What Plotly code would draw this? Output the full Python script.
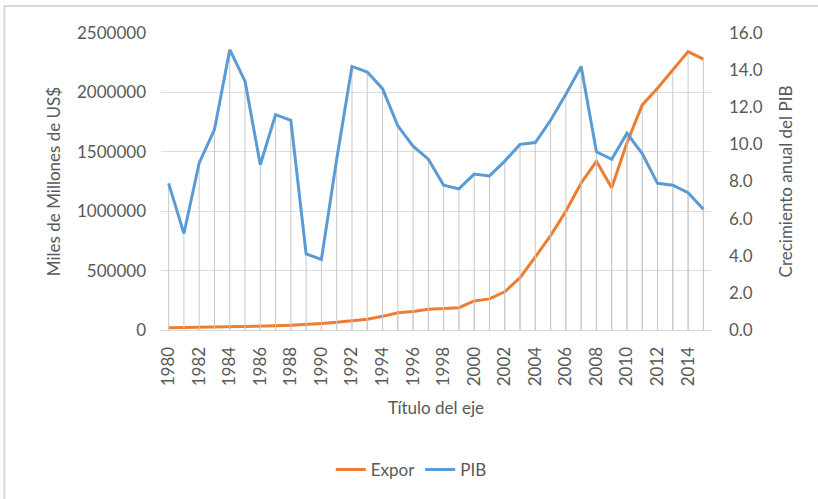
import plotly.graph_objects as go

# Years on the category axis
years = list(range(1980, 2016))

# Exports, thousands of millions of US$ (left axis)
expor = [18000, 20000, 21000, 22000, 24000, 26000, 30000, 35000, 40000, 45000,
         55000, 65000, 80000, 90000, 115000, 145000, 155000, 175000, 180000, 188000,
         245000, 262000, 322000, 440000, 615000, 795000, 1000000, 1238000, 1420000, 1198000,
         1575000, 1895000, 2035000, 2190000, 2343000, 2280000]

# Annual GDP growth, % (right axis)
pib = [7.9, 5.2, 9.0, 10.8, 15.1, 13.4, 8.9, 11.6, 11.3, 4.1,
       3.8, 9.2, 14.2, 13.9, 13.0, 11.0, 9.9, 9.2, 7.8, 7.6,
       8.4, 8.3, 9.1, 10.0, 10.1, 11.3, 12.7, 14.2, 9.6, 9.2,
       10.6, 9.5, 7.9, 7.8, 7.4, 6.5]

year_ticks = list(range(1980, 2015, 2))
left_ticks = [0, 500000, 1000000, 1500000, 2000000, 2500000]
right_ticks = [0, 2, 4, 6, 8, 10, 12, 14, 16]

ORANGE = "#ED7D31"
BLUE = "#5B9BD5"
TEXT = "#595959"
DROP = "#c8c8c8"
FONT = "Lato"


def drop_lines(values):
    xs, ys = [], []
    for x, v in zip(years, values):
        xs += [x, x, None]
        ys += [0, v, None]
    return xs, ys


fig = go.Figure()

# Vertical drop lines from the axis up to each series
dx, dy = drop_lines(expor)
fig.add_trace(go.Scatter(x=dx, y=dy, mode="lines", line=dict(color=DROP, width=1),
                         showlegend=False, hoverinfo="skip", yaxis="y"))
dx, dy = drop_lines(pib)
fig.add_trace(go.Scatter(x=dx, y=dy, mode="lines", line=dict(color=DROP, width=1),
                         showlegend=False, hoverinfo="skip", yaxis="y2"))

fig.add_trace(go.Scatter(x=years, y=expor, name="Expor", mode="lines",
                         line=dict(color=ORANGE, width=3), yaxis="y"))
fig.add_trace(go.Scatter(x=years, y=pib, name="PIB", mode="lines",
                         line=dict(color=BLUE, width=3), yaxis="y2"))

fig.update_layout(
    width=818, height=499,
    margin=dict(l=161, r=107, t=33, b=168),
    paper_bgcolor="white", plot_bgcolor="white",
    font=dict(family=FONT, size=17, color=TEXT),
    xaxis=dict(
        range=[1979.5, 2015.5], tickvals=year_ticks, ticktext=[str(y) for y in year_ticks],
        tickangle=-90, showgrid=False, zeroline=False,
        showline=True, linecolor="#d9d9d9", linewidth=1,
        ticks="", ticklabelstandoff=9,
        title=dict(text="Título del eje", standoff=16, font=dict(size=17, color=TEXT)),
    ),
    yaxis=dict(
        range=[0, 2500000], tickvals=left_ticks, ticktext=[str(v) for v in left_ticks],
        showgrid=True, gridcolor="#dcdcdc", gridwidth=1, zeroline=False,
        ticks="", ticklabelstandoff=14,
        title=dict(text="Miles de Millones de US$", standoff=12, font=dict(size=17, color=TEXT)),
    ),
    yaxis2=dict(
        range=[0, 16], tickvals=right_ticks, ticktext=[f"{v:.1f}" for v in right_ticks],
        overlaying="y", side="right", showgrid=False, zeroline=False,
        ticks="", ticklabelstandoff=17,
        title=dict(text="Crecimiento anual del PIB", standoff=18, font=dict(size=17, color=TEXT)),
    ),
    legend=dict(orientation="h", x=0.455, xanchor="center", y=-0.466, yanchor="middle",
                font=dict(size=17, color=TEXT), bgcolor="rgba(0,0,0,0)"),
    shapes=[dict(type="rect", xref="paper", yref="paper",
                 x0=-0.2848, x1=1.21, y0=-0.6, y1=1.0906,
                 line=dict(color="#d9d9d9", width=2), layer="below")],
)

fig.write_html("out.html")
